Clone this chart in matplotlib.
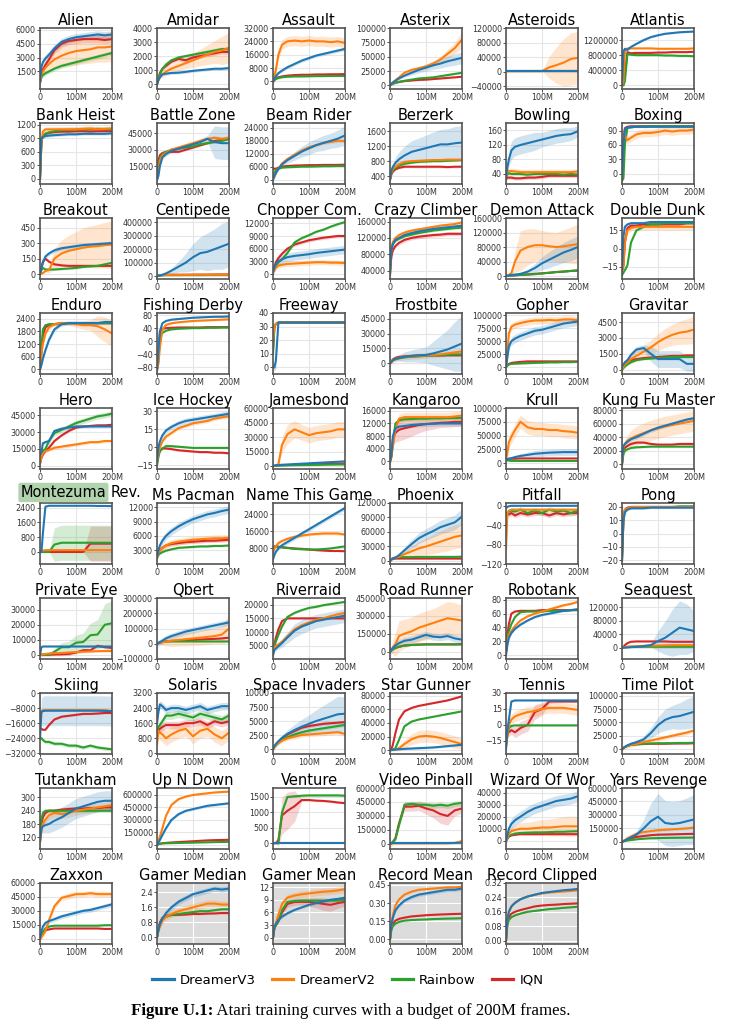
import numpy as np
import matplotlib.pyplot as plt
from matplotlib.lines import Line2D

# x positions of the read-off points (millions of frames)
X = [0, 4, 8, 15, 25, 40, 60, 80, 100, 120, 140, 160, 180, 200]

METHODS = ['DreamerV3', 'DreamerV2', 'Rainbow', 'IQN']
COLORS = ['#1f77b4', '#ff7f0e', '#2ca02c', '#d62728']

# each game: [DreamerV3, DreamerV2, Rainbow, IQN]; *_sd: band half widths (scalar or per point)
alien = [[300, 2000, 2500, 2900, 3300, 4000, 4700, 5000, 5200, 5300, 5400, 5500, 5400, 5500],
         [300, 1200, 1500, 1900, 2300, 2800, 3200, 3500, 3700, 3800, 3900, 4100, 4100, 4200],
         [300, 900, 1100, 1300, 1500, 1800, 2100, 2300, 2500, 2700, 2900, 3100, 3300, 3500],
         [300, 1300, 1700, 2200, 2800, 3800, 4500, 4800, 4900, 5000, 5000, 5000, 4900, 5000]]
alien_sd = [400, [100, 300, 400, 600, 800, 1000, 1200, 1400, 1500, 1500, 1500, 1600, 1600, 1600], 250, 400]

amidar = [[0, 300, 500, 700, 750, 800, 820, 880, 950, 1000, 1050, 1100, 1100, 1150],
          [0, 300, 500, 700, 900, 1100, 1300, 1500, 1700, 1900, 2100, 2300, 2400, 2600],
          [0, 400, 700, 1100, 1400, 1700, 1900, 2000, 2100, 2200, 2300, 2400, 2500, 2500],
          [0, 400, 800, 1100, 1300, 1600, 1800, 1700, 1900, 2000, 2100, 2200, 2300, 2300]]
amidar_sd = [100, [50, 100, 150, 200, 250, 300, 350, 400, 500, 600, 700, 800, 1000, 1100], 150, 150]

assault = [[0, 1500, 3000, 5000, 6500, 8500, 10500, 12500, 14000, 15500, 16500, 17500, 18500, 19500],
           [0, 3000, 7000, 16000, 22000, 24000, 24500, 24000, 24500, 24000, 24000, 23500, 24000, 23000],
           [0, 800, 1500, 2000, 2500, 2800, 3000, 3000, 3100, 3200, 3200, 3300, 3300, 3300],
           [0, 1000, 1800, 2500, 3000, 3500, 3800, 4000, 4000, 4200, 4200, 4300, 4300, 4400]]
assault_sd = [1000, 3000, 400, 400]

asterix = [[0, 3000, 5000, 8000, 12000, 17000, 22000, 27000, 31000, 35000, 38000, 42000, 45000, 48000],
           [0, 2000, 5000, 9000, 14000, 22000, 27000, 30000, 33000, 38000, 45000, 55000, 65000, 80000],
           [0, 1500, 3000, 4500, 6000, 8000, 10000, 12000, 13000, 14000, 16000, 18000, 20000, 22000],
           [0, 1500, 3000, 4500, 6000, 7500, 8500, 9500, 10000, 11000, 12000, 13000, 14000, 15000]]
asterix_sd = [[0, 500, 1000, 1500, 2000, 3000, 4000, 5000, 6000, 7000, 8000, 9000, 10000, 10000],
              [0, 500, 1000, 1500, 2000, 3000, 3000, 3000, 4000, 5000, 6000, 8000, 10000, 15000], 1500, 1000]

asteroids = [[2000, 2000, 2000, 2000, 2000, 2000, 2000, 2000, 2000, 2000, 2000, 2000, 2000, 2000],
             [1500, 1500, 1500, 1500, 1500, 1500, 1500, 1500, 1500, 12000, 18000, 25000, 35000, 38000],
             [1500, 1500, 1500, 1500, 1500, 1500, 1500, 1500, 1500, 1500, 1500, 1500, 1500, 1500],
             [1500, 1500, 1500, 1500, 1500, 1500, 1500, 1500, 1500, 1500, 1500, 1500, 1500, 1500]]
asteroids_sd = [500, [0, 0, 0, 0, 0, 0, 0, 0, 0, 30000, 50000, 65000, 72000, 72000], 0, 0]

atlantis = [[0, 900000, 970000, 940000, 1020000, 1100000, 1200000, 1280000, 1330000, 1370000, 1390000, 1410000, 1420000, 1430000],
            [0, 100000, 900000, 980000, 980000, 980000, 980000, 980000, 970000, 970000, 970000, 970000, 970000, 980000],
            [0, 0, 100000, 830000, 810000, 800000, 800000, 800000, 800000, 790000, 790000, 780000, 780000, 770000],
            [0, 0, 300000, 880000, 850000, 860000, 860000, 860000, 870000, 870000, 880000, 880000, 880000, 890000]]
atlantis_sd = [20000, 15000, 30000, 20000]

bank_heist = [[0, 900, 930, 950, 960, 970, 980, 990, 990, 1000, 1000, 1000, 1000, 1010],
              [0, 800, 1050, 1100, 1100, 1100, 1100, 1100, 1100, 1110, 1120, 1100, 1110, 1120],
              [0, 850, 950, 1000, 1030, 1060, 1080, 1090, 1090, 1100, 1100, 1110, 1100, 1100],
              [0, 850, 950, 1000, 1020, 1040, 1050, 1050, 1060, 1060, 1050, 1060, 1060, 1060]]
bank_heist_sd = [30, 60, 60, 40]

battle_zone = [[2000, 6000, 15000, 23000, 26000, 29000, 31000, 33000, 35000, 37000, 40000, 37000, 36000, 36000],
               [5000, 10000, 20000, 25000, 27000, 30000, 32000, 34000, 36000, 38000, 40000, 41000, 40000, 41000],
               [8000, 15000, 22000, 26000, 28000, 30000, 31000, 32000, 33000, 35000, 36000, 37000, 38000, 40000],
               [14000, 20000, 25000, 27000, 28000, 28000, 28000, 30000, 32000, 34000, 36000, 38000, 39000, 40000]]
battle_zone_sd = [[1000, 1000, 2000, 2000, 2000, 2000, 2000, 2000, 2000, 3000, 3000, 15000, 15000, 15000], 2000, 1000, 1000]

beam_rider = [[0, 1500, 3000, 5000, 7000, 9000, 11000, 13000, 14500, 16000, 17000, 18000, 19000, 20500],
              [0, 1500, 3000, 5000, 7500, 9500, 11500, 13500, 15000, 16000, 17000, 17500, 18000, 18000],
              [0, 3000, 4500, 5000, 5500, 5700, 5800, 6000, 6000, 6100, 6200, 6200, 6300, 6300],
              [5000, 5000, 5000, 5500, 6000, 6300, 6500, 6600, 6700, 6700, 6800, 6800, 6800, 6900]]
beam_rider_sd = [[0, 300, 500, 800, 1000, 1500, 2000, 2500, 3000, 3000, 3500, 3500, 4000, 4500], 800, 300, 300]

berzerk = [[300, 550, 650, 750, 850, 950, 1050, 1100, 1150, 1200, 1250, 1250, 1280, 1300],
           [300, 500, 600, 650, 720, 780, 800, 810, 820, 830, 830, 840, 840, 840],
           [300, 480, 550, 620, 680, 730, 760, 780, 790, 800, 800, 810, 820, 830],
           [300, 450, 520, 580, 620, 650, 650, 650, 650, 650, 650, 640, 650, 650]]
berzerk_sd = [[0, 50, 100, 150, 200, 250, 300, 320, 350, 380, 400, 420, 450, 450], 40, 30, 30]

bowling = [[30, 60, 80, 105, 115, 120, 125, 130, 135, 140, 145, 148, 150, 158],
           [35, 45, 48, 48, 47, 45, 45, 45, 45, 45, 45, 45, 45, 47],
           [30, 40, 42, 40, 40, 40, 38, 40, 40, 40, 40, 38, 40, 38],
           [25, 30, 30, 30, 28, 28, 30, 30, 32, 35, 35, 35, 35, 35]]
bowling_sd = [[5, 15, 20, 25, 25, 25, 25, 25, 20, 20, 20, 20, 18, 15], 8, 5, 5]

boxing = [[-10, 60, 92, 97, 97, 98, 98, 98, 98, 98, 98, 98, 98, 98],
          [60, 75, 80, 70, 75, 82, 85, 85, 87, 90, 88, 90, 90, 92],
          [-15, -10, 60, 95, 97, 98, 98, 99, 99, 99, 99, 99, 99, 99],
          [0, 70, 95, 98, 99, 99, 99, 99, 99, 99, 99, 99, 99, 99]]
boxing_sd = [2, 8, 1, 1]

breakout = [[0, 60, 110, 170, 200, 230, 250, 260, 270, 280, 285, 290, 295, 300],
            [0, 5, 10, 30, 40, 150, 200, 225, 240, 255, 265, 270, 280, 285],
            [0, 40, 60, 45, 45, 45, 50, 55, 60, 70, 75, 80, 95, 110],
            [0, 60, 120, 150, 120, 95, 85, 80, 80, 80, 80, 80, 80, 80]]
breakout_sd = [20, [0, 0, 0, 10, 30, 100, 130, 150, 170, 190, 200, 210, 220, 230], 10, 10]

centipede = [[0, 2000, 4000, 10000, 20000, 40000, 70000, 100000, 140000, 170000, 180000, 200000, 220000, 240000],
             [0, 3000, 5000, 7000, 8000, 9000, 9000, 9000, 9000, 10000, 10000, 10000, 10000, 10000],
             [0, 3000, 5000, 6000, 7000, 7000, 7000, 7500, 7500, 7500, 8000, 8000, 8000, 8000],
             [0, 4000, 6000, 8000, 9000, 10000, 10000, 10000, 11000, 11000, 11000, 12000, 12000, 12000]]
centipede_sd = [[0, 1000, 2000, 5000, 10000, 20000, 40000, 70000, 100000, 120000, 140000, 150000, 170000, 170000], 1000, 500, 500]

chopper_com = [[500, 1500, 2500, 3000, 3500, 4000, 4300, 4500, 4700, 5000, 5200, 5400, 5600, 5800],
               [500, 1000, 1500, 2000, 2200, 2400, 2500, 2600, 2700, 2800, 2800, 2700, 2700, 2600],
               [500, 1500, 2000, 2800, 3500, 5000, 7500, 8500, 9200, 10000, 10500, 11200, 11800, 12300],
               [500, 1800, 2800, 3800, 4800, 6000, 7000, 7500, 8000, 8300, 8600, 8800, 9000, 9000]]
chopper_com_sd = [1000, 600, 300, 400]

crazy_climber = [[30000, 90000, 105000, 115000, 120000, 127000, 132000, 136000, 139000, 142000, 144000, 146000, 148000, 150000],
                 [30000, 95000, 110000, 120000, 127000, 133000, 138000, 141000, 144000, 147000, 150000, 152000, 154000, 158000],
                 [30000, 95000, 105000, 113000, 118000, 124000, 128000, 132000, 135000, 138000, 140000, 142000, 144000, 145000],
                 [40000, 75000, 90000, 100000, 108000, 115000, 120000, 123000, 125000, 127000, 128000, 130000, 130000, 130000]]
crazy_climber_sd = [4000, 4000, 3000, 5000]

demon_attack = [[0, 1000, 2000, 3000, 4000, 6000, 12000, 22000, 35000, 45000, 55000, 65000, 72000, 80000],
                [0, 1000, 3000, 8000, 40000, 70000, 80000, 85000, 85000, 82000, 80000, 82000, 85000, 88000],
                [0, 500, 1000, 1500, 2000, 3000, 4000, 5000, 7000, 9000, 11000, 12000, 14000, 16000],
                [0, 500, 1000, 1500, 2000, 3000, 4500, 6000, 7500, 9000, 11000, 12500, 14000, 15000]]
demon_attack_sd = [[0, 500, 1000, 1500, 2000, 3000, 6000, 12000, 18000, 22000, 25000, 28000, 30000, 30000],
                   [0, 500, 2000, 5000, 30000, 55000, 50000, 45000, 40000, 40000, 40000, 45000, 50000, 55000], 1000, 1000]

double_dunk = [[-20, 10, 18, 20, 21, 21, 21, 22, 22, 22, 22, 22, 22, 22],
               [-20, -15, 5, 15, 17, 18, 18, 18, 18, 18, 18, 18, 18, 18],
               [-22, -20, -18, -14, 5, 15, 18, 20, 20, 21, 21, 21, 21, 21],
               [-18, -14, 5, 17, 19, 19, 20, 20, 20, 20, 20, 20, 21, 21]]
double_dunk_sd = [1, 2.5, 1, 1]

enduro = [[0, 200, 500, 900, 1400, 1900, 2150, 2200, 2200, 2200, 2200, 2200, 2250, 2250],
          [0, 700, 1200, 1700, 2000, 2150, 2200, 2200, 2150, 2100, 2100, 2050, 1900, 1700],
          [0, 1000, 1900, 2100, 2150, 2150, 2150, 2200, 2200, 2200, 2200, 2200, 2200, 2200],
          [0, 800, 1600, 2000, 2100, 2150, 2200, 2200, 2200, 2200, 2200, 2200, 2200, 2200]]
enduro_sd = [100, [0, 100, 100, 100, 100, 100, 100, 100, 150, 200, 250, 500, 600, 600], 50, 50]

fishing_derby = [[-90, -30, 30, 55, 62, 66, 68, 70, 72, 73, 74, 75, 75, 76],
                 [-90, -70, -20, 35, 50, 55, 58, 60, 62, 63, 64, 65, 66, 67],
                 [-90, -60, 10, 25, 32, 36, 38, 39, 40, 40, 41, 41, 42, 42],
                 [-85, -40, 25, 38, 40, 41, 42, 42, 42, 42, 43, 43, 43, 43]]
fishing_derby_sd = [2, 3, 2, 2]

freeway = [[0, 0, 5, 33, 33, 33, 33, 33, 33, 33, 33, 33, 33, 33],
           [20, 31, 32, 33, 33, 33, 33, 33, 33, 33, 33, 33, 33, 33],
           [10, 30, 32, 33, 33, 33, 33, 33, 33, 33, 33, 33, 33, 33],
           [13, 30, 32, 33, 33, 33, 33, 33, 33, 33, 33, 33, 33, 33]]
freeway_sd = [[0, 3, 6, 0.5, 0.3, 0.3, 0.3, 0.3, 0.3, 0.3, 0.3, 0.3, 0.3, 0.3], 0.5, 0.5, 0.5]

frostbite = [[0, 1500, 3000, 4500, 5500, 6500, 7500, 8000, 8500, 10000, 12000, 14000, 17000, 20000],
             [0, 1500, 3000, 4500, 5500, 6500, 7000, 7500, 8000, 8500, 9000, 10000, 11000, 12000],
             [0, 1500, 3000, 4000, 5000, 6000, 6500, 7000, 7500, 8000, 8000, 8500, 9000, 9000],
             [0, 2000, 4000, 5500, 6500, 7000, 7500, 8000, 8000, 8000, 8000, 8000, 8000, 8000]]
frostbite_sd = [[0, 500, 1000, 2000, 3000, 5000, 6000, 7000, 8000, 12000, 16000, 20000, 25000, 28000], 3000, 500, 500]

gopher = [[0, 20000, 40000, 50000, 55000, 60000, 65000, 70000, 72000, 76000, 80000, 84000, 86000, 88000],
          [0, 30000, 65000, 78000, 82000, 85000, 88000, 90000, 90000, 91000, 90000, 92000, 92000, 90000],
          [0, 3000, 5000, 6000, 6500, 7000, 7500, 8000, 8500, 9000, 9000, 9500, 9500, 10000],
          [0, 4000, 6000, 8000, 9000, 10000, 11000, 11000, 11000, 11000, 11000, 11000, 11000, 11000]]
gopher_sd = [8000, 7000, 1000, 1000]

gravitar = [[300, 500, 700, 900, 1400, 1900, 2050, 1500, 1000, 1000, 1000, 1000, 550, 550],
            [0, 300, 500, 700, 1000, 1300, 1700, 2100, 2600, 3000, 3300, 3500, 3600, 3800],
            [0, 150, 300, 500, 700, 900, 1000, 1050, 1100, 1150, 1200, 1200, 1200, 1200],
            [0, 300, 500, 700, 900, 1000, 1100, 1150, 1200, 1250, 1300, 1300, 1350, 1350]]
gravitar_sd = [[100, 100, 200, 200, 300, 300, 300, 700, 800, 800, 800, 800, 700, 700],
               [0, 100, 200, 300, 400, 500, 600, 700, 800, 900, 1000, 1100, 1200, 1300], 100, 100]

hero = [[10000, 12000, 20000, 21000, 22000, 31000, 33000, 34000, 35000, 35000, 35000, 35000, 35000, 35000],
        [2000, 8000, 11000, 13000, 14000, 16000, 17000, 18000, 19000, 20000, 21000, 21000, 22000, 22000],
        [2000, 10000, 13000, 15000, 22000, 29000, 32000, 35000, 38000, 40000, 42000, 44000, 45000, 46500],
        [2000, 7000, 10000, 13000, 16000, 22000, 27000, 31000, 34000, 35000, 35500, 36000, 36000, 36500]]
hero_sd = [1500, 1500, 2500, 1000]

ice_hockey = [[-12, 0, 5, 10, 14, 17, 20, 22, 23, 24, 25, 26, 27, 28],
              [-12, -5, 0, 5, 9, 12, 16, 18, 20, 21, 22, 24, 25, 26],
              [-15, -8, -3, -1, 1, 1, 0.5, 0, -0.5, -0.5, -0.5, -0.5, -0.5, -0.5],
              [-12, -6, -3, -1, -1, -1.5, -2.5, -3, -3.5, -4, -4, -4.5, -4.5, -5]]
ice_hockey_sd = [2.5, 1.5, 0.8, 0.8]

jamesbond = [[0, 500, 1000, 1200, 1500, 1800, 2200, 2600, 3000, 3400, 3800, 4200, 4600, 5000],
             [0, 500, 1000, 2000, 22000, 33000, 38000, 35000, 32000, 34000, 35000, 36000, 38000, 38000],
             [0, 300, 500, 700, 800, 900, 1000, 1100, 1200, 1300, 1500, 1600, 1700, 1800],
             [0, 400, 600, 800, 1000, 1200, 1400, 1600, 1800, 2000, 2200, 2400, 2600, 2800]]
jamesbond_sd = [500, [0, 200, 500, 1000, 8000, 10000, 9000, 8000, 8000, 8000, 8000, 8000, 8000, 8000], 200, 300]

kangaroo = [[0, 2000, 8000, 10500, 11000, 11200, 11500, 11700, 11800, 11900, 12000, 12000, 12000, 12000],
            [0, 1500, 5000, 10000, 13500, 14000, 14000, 14000, 14000, 14000, 14000, 14000, 14200, 14500],
            [0, 1500, 6000, 12000, 13000, 13300, 13400, 13500, 13500, 13600, 13600, 13700, 13700, 13800],
            [0, 2000, 7000, 9000, 10000, 10500, 11000, 11500, 11800, 12000, 12200, 12300, 12500, 12500]]
kangaroo_sd = [800, 1500, 500, [0, 1000, 2000, 3000, 3500, 3500, 3000, 2500, 2000, 1800, 1500, 1500, 1500, 1500]]

krull = [[6000, 7000, 8000, 9000, 11000, 13000, 15000, 17000, 18000, 19000, 19500, 20000, 20000, 20000],
         [6000, 20000, 38000, 48000, 60000, 75000, 65000, 62000, 62000, 60000, 60000, 58000, 57000, 55000],
         [6000, 5000, 4500, 4000, 4000, 4000, 4000, 4000, 4000, 4000, 4000, 4000, 4000, 4000],
         [7000, 7500, 8000, 8000, 8000, 8500, 8500, 8500, 8500, 8500, 8500, 8500, 8500, 8500]]
krull_sd = [[500, 1000, 1500, 2000, 3000, 4000, 5000, 6000, 6000, 6000, 6000, 6000, 6000, 6000], 12000, 500, 500]

kung_fu_master = [[0, 27000, 30000, 33000, 37000, 40000, 45000, 50000, 54000, 57000, 60000, 63000, 66000, 68000],
                  [0, 25000, 30000, 35000, 38000, 42000, 46000, 50000, 53000, 56000, 58000, 60000, 62000, 64000],
                  [0, 15000, 20000, 22000, 24000, 25000, 25500, 26000, 26000, 26000, 26000, 26000, 26000, 26000],
                  [0, 20000, 24000, 27000, 30000, 32000, 32000, 30000, 29000, 29000, 29000, 30000, 30000, 30000]]
kung_fu_master_sd = [3000, [0, 3000, 5000, 8000, 12000, 14000, 15000, 15000, 15000, 15000, 15000, 15000, 15000, 15000], 1500, 1500]

montezuma = [[0, 0, 1000, 2450, 2500, 2500, 2500, 2500, 2500, 2500, 2500, 2490, 2490, 2480],
             [0, 50, 80, 100, 100, 100, 100, 100, 100, 100, 100, 100, 100, 100],
             [0, 0, 0, 0, 0, 400, 500, 500, 500, 500, 500, 500, 500, 500],
             [0, 0, 0, 0, 0, 0, 0, 0, 0, 0, 450, 450, 450, 450]]
montezuma_sd = [0, 30, [0, 0, 0, 0, 0, 900, 950, 950, 950, 950, 950, 950, 950, 950],
                [0, 0, 0, 0, 0, 0, 0, 0, 0, 0, 950, 950, 950, 950]]

ms_pacman = [[1500, 3000, 4000, 5000, 6000, 7000, 8000, 8800, 9500, 10000, 10500, 10800, 11200, 11500],
             [1500, 2500, 3000, 3500, 4000, 4500, 4800, 5000, 5200, 5300, 5400, 5500, 5500, 5600],
             [1500, 2000, 2300, 2600, 2900, 3200, 3500, 3600, 3700, 3800, 3800, 3900, 3900, 4000],
             [1500, 2500, 3000, 3500, 4000, 4300, 4500, 4700, 4800, 4900, 5000, 5000, 5100, 5200]]
ms_pacman_sd = [800, 700, 200, 400]

name_this_game = [[3000, 5000, 6500, 8000, 9500, 11000, 13000, 15000, 17000, 19000, 21000, 23000, 25000, 27000],
                  [6000, 8000, 9000, 10500, 11500, 12500, 13500, 14000, 14500, 14800, 15000, 15000, 15000, 14500],
                  [7000, 8500, 9000, 8800, 8500, 8200, 7800, 7600, 7500, 7500, 7700, 8000, 8500, 9000],
                  [8500, 9000, 9000, 8800, 8600, 8300, 8000, 7800, 7500, 7200, 7000, 6800, 6800, 6700]]
name_this_game_sd = [1000, 700, 300, 300]

phoenix = [[0, 3000, 5000, 7000, 12000, 22000, 35000, 47000, 55000, 62000, 70000, 75000, 80000, 92000],
           [0, 3000, 5000, 7000, 9000, 14000, 20000, 26000, 30000, 35000, 40000, 45000, 50000, 53000],
           [0, 4000, 6000, 7000, 8000, 8000, 8000, 8500, 8500, 8500, 8500, 8500, 8500, 9000],
           [0, 3000, 4000, 5000, 5000, 5000, 5000, 5000, 5000, 5000, 5000, 5000, 5000, 5000]]
phoenix_sd = [[0, 500, 1000, 2000, 3000, 6000, 9000, 11000, 12000, 13000, 14000, 15000, 15000, 16000],
              [0, 500, 1000, 2000, 3000, 6000, 10000, 14000, 17000, 20000, 22000, 24000, 25000, 25000], 800, 500]

pitfall = [[-5, -2, -1, 0, 0, 0, 0, 0, 0, 0, 0, 0, 0, 0],
           [-90, -15, -10, -8, -8, -8, -8, -8, -8, -8, -8, -8, -8, -8],
           [-20, -15, -12, -10, -12, -8, -15, -10, -15, -8, -12, -10, -15, -10],
           [-15, -15, -18, -15, -20, -15, -18, -15, -15, -20, -15, -18, -15, -15]]
pitfall_sd = [1, 3, 6, 5]

pong = [[-20, 10, 16, 18, 19, 19, 19, 19.5, 19.5, 19.5, 19.5, 19.5, 19.5, 19.5],
        [-15, 15, 18, 19, 20, 20, 20, 20, 20, 20, 20, 20, 20, 20],
        [-20, 10, 17, 19, 20, 20, 20, 20, 20, 20, 20, 20.5, 20.5, 20.5],
        [-20, 12, 18, 19.5, 20, 20, 20, 20, 20, 20, 20, 20, 20, 20]]
pong_sd = [0.8, 0.8, 0.4, 0.4]

private_eye = [[0, 5000, 5500, 5500, 5500, 5500, 5500, 5500, 5500, 5500, 5500, 5500, 5500, 5500],
               [0, 0, 200, 500, 800, 1000, 1200, 1500, 1800, 2000, 2200, 2400, 2500, 2500],
               [0, 0, 0, 0, 0, 2000, 5000, 5000, 8000, 8500, 13000, 13500, 20000, 21000],
               [0, 0, 0, 0, 0, 200, 300, 500, 1500, 3000, 3000, 6000, 5000, 4500]]
private_eye_sd = [300, 800, [0, 0, 0, 0, 0, 2000, 3000, 4000, 5000, 6000, 8000, 10000, 14000, 15000], 1000]

qbert = [[0, 5000, 10000, 20000, 35000, 50000, 65000, 80000, 90000, 100000, 110000, 120000, 130000, 140000],
         [0, 3000, 6000, 10000, 15000, 20000, 25000, 30000, 35000, 40000, 45000, 50000, 60000, 100000],
         [0, 5000, 10000, 15000, 15000, 15000, 15000, 15000, 15000, 15000, 15000, 15000, 15000, 15000],
         [0, 5000, 8000, 12000, 15000, 18000, 20000, 22000, 25000, 28000, 30000, 32000, 35000, 40000]]
qbert_sd = [20000, [0, 5000, 10000, 20000, 30000, 40000, 40000, 45000, 45000, 50000, 50000, 50000, 60000, 90000], 2000, 5000]

riverraid = [[1500, 3500, 4000, 4800, 6000, 8000, 10500, 12000, 13000, 14000, 14500, 15000, 15500, 16000],
             [4000, 4500, 5000, 5500, 6500, 8500, 11000, 12500, 13500, 14500, 15000, 15800, 16500, 17000],
             [4000, 5000, 6500, 9000, 12000, 15500, 17000, 18000, 18800, 19200, 19800, 20200, 20600, 21000],
             [4000, 5500, 8000, 11000, 14000, 15000, 15000, 15000, 15000, 15000, 15000, 15000, 15000, 15000]]
riverraid_sd = [[300, 500, 800, 1000, 1500, 2000, 2500, 2500, 2500, 2500, 2500, 2500, 2500, 2500], 600, 400, 300]

road_runner = [[0, 15000, 30000, 50000, 70000, 90000, 100000, 120000, 140000, 125000, 120000, 130000, 110000, 100000],
               [0, 15000, 35000, 60000, 130000, 150000, 170000, 200000, 220000, 240000, 260000, 280000, 270000, 260000],
               [0, 10000, 20000, 30000, 40000, 50000, 55000, 58000, 60000, 60000, 60000, 60000, 60000, 60000],
               [0, 10000, 20000, 30000, 40000, 50000, 55000, 58000, 60000, 60000, 60000, 60000, 60000, 62000]]
road_runner_sd = [30000, [0, 30000, 60000, 100000, 130000, 120000, 120000, 120000, 120000, 120000, 130000, 140000, 140000, 130000], 3000, 3000]

robotank = [[0, 15, 25, 32, 38, 44, 50, 55, 58, 60, 62, 64, 65, 66],
            [5, 20, 30, 35, 42, 50, 56, 60, 63, 66, 69, 72, 74, 77],
            [5, 25, 35, 45, 55, 62, 63, 63, 63, 64, 64, 64, 65, 65],
            [5, 30, 45, 60, 63, 64, 64, 64, 65, 65, 65, 65, 65, 66]]
robotank_sd = [1.5, 1.5, 1, 1]

seaquest = [[0, 300, 500, 1000, 2000, 3000, 5000, 8000, 20000, 30000, 45000, 60000, 55000, 50000],
            [0, 1000, 2000, 3000, 4000, 5000, 6000, 7000, 7000, 7500, 8000, 8000, 8000, 8000],
            [0, 1000, 2000, 3000, 3000, 3000, 3000, 3000, 3000, 3000, 3000, 3000, 3000, 3000],
            [0, 3000, 8000, 14000, 18000, 19000, 19000, 19000, 19000, 19000, 18000, 18000, 18000, 18000]]
seaquest_sd = [[0, 0, 0, 500, 1000, 2000, 3000, 5000, 30000, 50000, 70000, 80000, 75000, 60000], 1000, 500, 1000]

skiing = [[-24000, -10000, -9500, -9300, -9300, -9300, -9300, -9300, -9300, -9300, -9300, -9300, -9400, -9500],
          [-13000, -9500, -9000, -9000, -9000, -9000, -9000, -9000, -9000, -9000, -9000, -9000, -9000, -9500],
          [-24000, -24000, -25000, -26000, -26000, -27000, -27000, -28000, -28000, -29000, -28000, -29000, -29500, -30000],
          [-19000, -19000, -19500, -19500, -17000, -14000, -12500, -12000, -11500, -11000, -11000, -10800, -10500, -10500]]
skiing_sd = [[0, 7000, 8000, 8000, 8000, 8000, 8000, 8000, 8000, 8000, 8000, 8000, 8000, 8000], 300, 1000, 500]

solaris = [[1600, 2200, 2600, 2500, 2300, 2400, 2400, 2300, 2400, 2500, 2300, 2400, 2500, 2500],
           [500, 1200, 1100, 1000, 800, 1000, 1200, 1300, 900, 1200, 1300, 1000, 800, 1100],
           [1000, 1400, 1500, 1700, 2000, 2000, 2100, 2000, 1900, 2100, 2000, 1900, 1800, 2000],
           [1000, 1200, 1300, 1400, 1500, 1500, 1500, 1600, 1600, 1700, 1500, 1700, 1600, 1700]]
solaris_sd = [200, 400, 200, 200]

space_invaders = [[0, 500, 900, 1400, 2000, 2700, 3400, 4000, 4500, 5000, 5400, 5800, 6200, 6300],
                  [0, 400, 700, 1100, 1500, 1900, 2200, 2500, 2600, 2700, 2800, 2900, 3000, 2700],
                  [0, 400, 700, 1100, 1600, 2100, 2600, 3000, 3300, 3500, 3700, 3900, 4100, 4300],
                  [0, 500, 800, 1300, 1900, 2600, 3200, 3800, 4100, 4300, 4500, 4600, 4700, 4800]]
space_invaders_sd = [[0, 100, 200, 300, 500, 700, 1000, 1300, 1600, 2000, 2400, 2800, 3200, 3000], 400, 300, 300]

star_gunner = [[0, 300, 500, 1000, 1500, 2000, 2500, 3000, 3500, 4000, 5000, 6000, 7000, 8000],
               [0, 200, 500, 1000, 3000, 9000, 16000, 20000, 21000, 20000, 18000, 15000, 12000, 9000],
               [0, 300, 1000, 3000, 15000, 35000, 42000, 45000, 47000, 49000, 51000, 53000, 55000, 57000],
               [0, 2000, 8000, 25000, 45000, 57000, 62000, 65000, 67000, 69000, 71000, 73000, 76000, 79000]]
star_gunner_sd = [1500, [0, 500, 1000, 2000, 4000, 6000, 8000, 9000, 9000, 9000, 9000, 9000, 9000, 8000], 800, 800]

tennis = [[-23, -5, 5, 22, 23, 23, 23, 23, 23, 23, 23, 23, 23, 23],
          [-20, -10, 0, 5, 8, 10, 12, 13, 15, 16, 16, 16, 15, 14],
          [-20, -10, -3, -1, -0.5, -0.5, -0.5, -0.5, -0.5, -0.5, -0.5, -0.5, -0.5, -0.5],
          [-15, -5, -7, -5, -7, -3, 0, 12, 15, 22, 22, 22, 22, 22]]
tennis_sd = [0.5, 5, 0.5, [2, 3, 4, 4, 5, 6, 6, 7, 6, 2, 1, 1, 1, 1]]

time_pilot = [[0, 2000, 4000, 7000, 10000, 13000, 18000, 30000, 45000, 55000, 60000, 62000, 66000, 70000],
              [0, 2000, 4000, 6000, 8000, 10000, 13000, 16000, 19000, 22000, 25000, 28000, 31000, 35000],
              [0, 2000, 4000, 6000, 8000, 9000, 10000, 10500, 11000, 11000, 11000, 11500, 11500, 12000],
              [0, 2000, 4000, 6000, 8000, 9000, 9500, 10000, 10000, 10000, 10500, 10500, 10500, 11000]]
time_pilot_sd = [[0, 500, 1000, 2000, 3000, 4000, 6000, 10000, 15000, 20000, 22000, 25000, 28000, 30000], 4000, 800, 800]

tutankham = [[100, 160, 170, 175, 180, 195, 210, 230, 250, 260, 270, 280, 285, 285],
             [100, 150, 180, 200, 220, 230, 225, 230, 240, 245, 250, 255, 260, 265],
             [100, 200, 230, 240, 240, 240, 240, 240, 240, 240, 240, 240, 240, 240],
             [140, 180, 210, 230, 240, 240, 245, 248, 250, 250, 252, 252, 255, 255]]
tutankham_sd = [[10, 20, 30, 35, 40, 45, 45, 45, 45, 45, 45, 45, 45, 45], 20, 8, 10]

up_n_down = [[0, 30000, 60000, 120000, 200000, 300000, 370000, 410000, 430000, 450000, 470000, 480000, 490000, 500000],
             [0, 50000, 100000, 200000, 350000, 480000, 550000, 580000, 600000, 610000, 620000, 630000, 635000, 640000],
             [0, 10000, 15000, 20000, 20000, 22000, 24000, 26000, 28000, 30000, 32000, 34000, 36000, 38000],
             [0, 10000, 15000, 20000, 25000, 30000, 35000, 40000, 45000, 50000, 55000, 58000, 60000, 62000]]
up_n_down_sd = [15000, 10000, 3000, 5000]

venture = [[0, 0, 0, 0, 0, 0, 0, 0, 0, 0, 0, 0, 0, 0],
           [0, 0, 0, 0, 0, 0, 0, 0, 0, 0, 0, 0, 0, 0],
           [0, 0, 0, 0, 1000, 1500, 1520, 1540, 1550, 1550, 1550, 1550, 1550, 1540],
           [0, 0, 0, 100, 900, 1050, 1200, 1400, 1400, 1380, 1370, 1350, 1320, 1300]]
venture_sd = [5, 5, 40, [0, 0, 0, 200, 600, 600, 500, 40, 30, 30, 30, 30, 30, 30]]

video_pinball = [[10000, 10000, 10000, 10000, 10000, 10000, 10000, 10000, 10000, 10000, 10000, 10000, 11000, 12000],
                 [5000, 5000, 5000, 5000, 5000, 5000, 5000, 5000, 5000, 5000, 5000, 5000, 10000, 30000],
                 [0, 5000, 20000, 50000, 200000, 420000, 430000, 420000, 420000, 410000, 420000, 410000, 430000, 440000],
                 [0, 5000, 20000, 60000, 220000, 400000, 400000, 410000, 380000, 360000, 320000, 300000, 360000, 380000]]
video_pinball_sd = [3000, [0, 0, 0, 0, 0, 0, 0, 0, 0, 0, 0, 2000, 10000, 30000], 30000,
                    [0, 2000, 5000, 10000, 30000, 50000, 50000, 50000, 60000, 80000, 100000, 100000, 60000, 50000]]

wizard_of_wor = [[0, 5000, 10000, 14000, 17000, 20000, 24000, 27000, 29000, 31000, 33000, 34000, 35000, 37000],
                 [0, 3000, 6000, 8000, 9000, 10000, 10000, 10500, 11000, 11000, 11500, 12000, 12000, 12000],
                 [0, 2000, 4000, 5000, 6000, 6500, 6800, 7000, 7000, 7200, 7500, 7500, 7800, 8000],
                 [0, 2000, 3500, 4500, 5000, 5500, 5500, 5500, 5500, 5500, 5500, 5500, 5500, 5500]]
wizard_of_wor_sd = [4500, [0, 1000, 2000, 3000, 4000, 5000, 5500, 6000, 6500, 7000, 7500, 8000, 8500, 8000], 800, 500]

yars_revenge = [[0, 8000, 15000, 30000, 50000, 80000, 150000, 230000, 280000, 210000, 200000, 210000, 230000, 250000],
                [0, 10000, 20000, 40000, 60000, 90000, 110000, 120000, 130000, 135000, 140000, 145000, 150000, 160000],
                [0, 5000, 10000, 15000, 20000, 28000, 35000, 40000, 42000, 44000, 45000, 46000, 47000, 48000],
                [0, 8000, 15000, 25000, 40000, 55000, 65000, 75000, 80000, 82000, 84000, 86000, 88000, 90000]]
yars_revenge_sd = [[0, 3000, 5000, 10000, 20000, 40000, 100000, 200000, 260000, 250000, 250000, 250000, 260000, 280000], 15000, 4000, 8000]

zaxxon = [[0, 8000, 13000, 17000, 19000, 21000, 24000, 26000, 28000, 30000, 31000, 33000, 35000, 37000],
          [0, 2000, 4000, 8000, 20000, 35000, 44000, 46000, 48000, 48000, 49000, 48000, 48000, 48000],
          [0, 4000, 7000, 11000, 13000, 14000, 14000, 14000, 14000, 14000, 14000, 14000, 14500, 14500],
          [0, 4000, 7000, 9000, 10000, 11000, 11000, 11000, 11000, 11000, 11000, 11000, 10500, 10500]]
zaxxon_sd = [2500, 3000, 800, 500]

gamer_median = [[0, 0.4, 0.7, 1.0, 1.3, 1.6, 1.9, 2.1, 2.3, 2.4, 2.5, 2.6, 2.55, 2.6],
                [0, 0.4, 0.6, 0.9, 1.1, 1.25, 1.4, 1.5, 1.6, 1.7, 1.8, 1.8, 1.75, 1.75],
                [0, 0.4, 0.7, 1.0, 1.1, 1.2, 1.25, 1.3, 1.35, 1.4, 1.4, 1.45, 1.5, 1.5],
                [0, 0.5, 0.8, 1.05, 1.15, 1.2, 1.2, 1.22, 1.25, 1.25, 1.27, 1.28, 1.3, 1.3]]
gamer_median_sd = [0.15, 0.2, 0.05, 0.05]

gamer_mean = [[0, 2.5, 3.3, 4.2, 5.0, 5.8, 6.6, 7.2, 7.8, 8.2, 8.6, 9.0, 9.2, 9.5],
              [0, 2.5, 3.5, 5.5, 8.0, 9.5, 10.0, 10.3, 10.5, 10.7, 10.9, 11.0, 11.2, 11.5],
              [0, 2.5, 3.0, 4.0, 6.5, 8.5, 8.7, 8.8, 8.8, 8.8, 8.8, 8.8, 8.8, 9.0],
              [0, 2.5, 3.0, 4.0, 6.0, 8.0, 8.5, 8.5, 8.5, 8.3, 8.0, 7.8, 8.2, 8.5]]
gamer_mean_sd = [0.3, 0.8, 0.4, [0, 0.2, 0.3, 0.5, 0.7, 0.8, 0.8, 0.8, 1.0, 1.2, 1.5, 1.5, 1.2, 1.0]]

record_mean = [[0, 0.12, 0.18, 0.24, 0.28, 0.32, 0.35, 0.37, 0.38, 0.39, 0.40, 0.41, 0.41, 0.42],
               [0, 0.12, 0.2, 0.28, 0.33, 0.37, 0.395, 0.41, 0.415, 0.42, 0.425, 0.43, 0.43, 0.435],
               [0, 0.08, 0.11, 0.13, 0.145, 0.155, 0.16, 0.163, 0.165, 0.168, 0.17, 0.172, 0.173, 0.175],
               [0, 0.1, 0.13, 0.155, 0.17, 0.18, 0.19, 0.195, 0.2, 0.203, 0.206, 0.208, 0.21, 0.212]]
record_mean_sd = [0.015, 0.008, 0.004, 0.004]

record_clipped = [[0, 0.12, 0.16, 0.19, 0.21, 0.23, 0.245, 0.255, 0.265, 0.27, 0.275, 0.28, 0.283, 0.287],
                  [0, 0.12, 0.16, 0.19, 0.21, 0.23, 0.245, 0.255, 0.262, 0.267, 0.27, 0.273, 0.276, 0.28],
                  [0, 0.09, 0.115, 0.13, 0.14, 0.15, 0.16, 0.165, 0.17, 0.175, 0.178, 0.182, 0.185, 0.188],
                  [0, 0.1, 0.13, 0.15, 0.16, 0.17, 0.18, 0.19, 0.195, 0.198, 0.2, 0.203, 0.205, 0.207]]
record_clipped_sd = [0.004, 0.004, 0.002, 0.002]

GAMES = [
    ('Alien', alien, alien_sd, ['1500', '3000', '4500', '6000']),
    ('Amidar', amidar, amidar_sd, ['0', '1000', '2000', '3000', '4000']),
    ('Assault', assault, assault_sd, ['0', '8000', '16000', '24000', '32000']),
    ('Asterix', asterix, asterix_sd, ['0', '25000', '50000', '75000', '100000']),
    ('Asteroids', asteroids, asteroids_sd, ['-40000', '0', '40000', '80000', '120000']),
    ('Atlantis', atlantis, atlantis_sd, ['0', '400000', '800000', '1200000']),
    ('Bank Heist', bank_heist, bank_heist_sd, ['0', '300', '600', '900', '1200']),
    ('Battle Zone', battle_zone, battle_zone_sd, ['15000', '30000', '45000']),
    ('Beam Rider', beam_rider, beam_rider_sd, ['0', '6000', '12000', '18000', '24000']),
    ('Berzerk', berzerk, berzerk_sd, ['400', '800', '1200', '1600']),
    ('Bowling', bowling, bowling_sd, ['40', '80', '120', '160']),
    ('Boxing', boxing, boxing_sd, ['0', '30', '60', '90']),
    ('Breakout', breakout, breakout_sd, ['0', '150', '300', '450']),
    ('Centipede', centipede, centipede_sd, ['0', '100000', '200000', '300000', '400000']),
    ('Chopper Com.', chopper_com, chopper_com_sd, ['0', '3000', '6000', '9000', '12000']),
    ('Crazy Climber', crazy_climber, crazy_climber_sd, ['40000', '80000', '120000', '160000']),
    ('Demon Attack', demon_attack, demon_attack_sd, ['0', '40000', '80000', '120000', '160000']),
    ('Double Dunk', double_dunk, double_dunk_sd, ['-15', '0', '15']),
    ('Enduro', enduro, enduro_sd, ['0', '600', '1200', '1800', '2400']),
    ('Fishing Derby', fishing_derby, fishing_derby_sd, ['-80', '-40', '0', '40', '80']),
    ('Freeway', freeway, freeway_sd, ['0', '10', '20', '30', '40']),
    ('Frostbite', frostbite, frostbite_sd, ['0', '15000', '30000', '45000']),
    ('Gopher', gopher, gopher_sd, ['0', '25000', '50000', '75000', '100000']),
    ('Gravitar', gravitar, gravitar_sd, ['0', '1500', '3000', '4500']),
    ('Hero', hero, hero_sd, ['0', '15000', '30000', '45000']),
    ('Ice Hockey', ice_hockey, ice_hockey_sd, ['-15', '0', '15', '30']),
    ('Jamesbond', jamesbond, jamesbond_sd, ['0', '15000', '30000', '45000', '60000']),
    ('Kangaroo', kangaroo, kangaroo_sd, ['0', '4000', '8000', '12000', '16000']),
    ('Krull', krull, krull_sd, ['0', '25000', '50000', '75000', '100000']),
    ('Kung Fu Master', kung_fu_master, kung_fu_master_sd, ['0', '20000', '40000', '60000', '80000']),
    ('Montezuma Rev.', montezuma, montezuma_sd, ['0', '800', '1600', '2400']),
    ('Ms Pacman', ms_pacman, ms_pacman_sd, ['3000', '6000', '9000', '12000']),
    ('Name This Game', name_this_game, name_this_game_sd, ['8000', '16000', '24000']),
    ('Phoenix', phoenix, phoenix_sd, ['0', '30000', '60000', '90000', '120000']),
    ('Pitfall', pitfall, pitfall_sd, ['-120', '-80', '-40', '0']),
    ('Pong', pong, pong_sd, ['-20', '-10', '0', '10', '20']),
    ('Private Eye', private_eye, private_eye_sd, ['0', '10000', '20000', '30000']),
    ('Qbert', qbert, qbert_sd, ['-100000', '0', '100000', '200000', '300000']),
    ('Riverraid', riverraid, riverraid_sd, ['5000', '10000', '15000', '20000']),
    ('Road Runner', road_runner, road_runner_sd, ['0', '150000', '300000', '450000']),
    ('Robotank', robotank, robotank_sd, ['0', '20', '40', '60', '80']),
    ('Seaquest', seaquest, seaquest_sd, ['0', '40000', '80000', '120000']),
    ('Skiing', skiing, skiing_sd, ['-32000', '-24000', '-16000', '-8000', '0']),
    ('Solaris', solaris, solaris_sd, ['0', '800', '1600', '2400', '3200']),
    ('Space Invaders', space_invaders, space_invaders_sd, ['0', '2500', '5000', '7500', '10000']),
    ('Star Gunner', star_gunner, star_gunner_sd, ['0', '20000', '40000', '60000', '80000']),
    ('Tennis', tennis, tennis_sd, ['-15', '0', '15', '30']),
    ('Time Pilot', time_pilot, time_pilot_sd, ['0', '25000', '50000', '75000', '100000']),
    ('Tutankham', tutankham, tutankham_sd, ['120', '180', '240', '300']),
    ('Up N Down', up_n_down, up_n_down_sd, ['0', '150000', '300000', '450000', '600000']),
    ('Venture', venture, venture_sd, ['0', '500', '1000', '1500']),
    ('Video Pinball', video_pinball, video_pinball_sd, ['0', '150000', '300000', '450000', '600000']),
    ('Wizard Of Wor', wizard_of_wor, wizard_of_wor_sd, ['0', '10000', '20000', '30000', '40000']),
    ('Yars Revenge', yars_revenge, yars_revenge_sd, ['0', '150000', '300000', '450000', '600000']),
    ('Zaxxon', zaxxon, zaxxon_sd, ['0', '15000', '30000', '45000', '60000']),
    ('Gamer Median', gamer_median, gamer_median_sd, ['0.0', '0.8', '1.6', '2.4']),
    ('Gamer Mean', gamer_mean, gamer_mean_sd, ['0', '3', '6', '9', '12']),
    ('Record Mean', record_mean, record_mean_sd, ['0.00', '0.15', '0.30', '0.45']),
    ('Record Clipped', record_clipped, record_clipped_sd, ['0.00', '0.08', '0.16', '0.24', '0.32']),
]
AGGREGATES = ['Gamer Median', 'Gamer Mean', 'Record Mean', 'Record Clipped']

# ---- layout (pixels of a 740x1029 canvas) ----
W, H = 740, 1029
COL_X = [40, 157, 273, 390, 506, 622]
ROW_Y0, ROW_DY = 28, 95
AX_W, AX_H = 72, 61

fig = plt.figure(figsize=(W / 100, H / 100), dpi=100)
x = np.array(X, float)

for i, (title, curves, sds, ticks) in enumerate(GAMES):
    r, c = divmod(i, 6)
    top = ROW_Y0 + r * ROW_DY
    ax = fig.add_axes([COL_X[c] / W, 1 - (top + AX_H) / H, AX_W / W, AX_H / H])
    agg = title in AGGREGATES
    ax.set_facecolor('#dcdcdc' if agg else 'white')
    ax.grid(True, color='white' if agg else '#e6e6e6', lw=0.8)
    ax.set_axisbelow(True)

    # draw IQN first, DreamerV3 last (on top)
    for k in [3, 2, 1, 0]:
        y = np.array(curves[k], float)
        sd = np.broadcast_to(np.asarray(sds[k], float), y.shape)
        if np.any(sd > 0):
            ax.fill_between(x, y - sd, y + sd, color=COLORS[k], alpha=0.2, lw=0)
        ax.plot(x, y, color=COLORS[k], lw=1.5)

    ax.set_xlim(0, 200)
    ax.set_xticks([0, 100, 200])
    ax.set_xticklabels(['0', '100M', '200M'])
    ax.set_yticks([float(t) for t in ticks])
    ax.set_yticklabels([t.replace('-', '\u2212') for t in ticks])
    ax.tick_params(labelsize=5.8, length=2, width=0.6, pad=1, colors='#333333')
    for s in ax.spines.values():
        s.set_color('#555555')
        s.set_linewidth(1.2)

    if title == 'Montezuma Rev.':
        t1 = ax.text(-0.27, 1.05, 'Montezuma', transform=ax.transAxes, ha='left', va='bottom',
                     fontsize=10.5, bbox=dict(boxstyle='round,pad=0.15', fc='#a9cfa5', ec='none', alpha=0.9))
        ax.annotate('Rev.', xy=(1, 0), xycoords=t1, xytext=(3, 0), textcoords='offset points',
                    ha='left', va='bottom', fontsize=10.5)
    else:
        ax.set_title(title, fontsize=10.5, pad=2)

handles = [Line2D([], [], color=col, lw=2.3) for col in COLORS]
fig.legend(handles, METHODS, loc='center', bbox_to_anchor=(348 / W, 1 - 980 / H), ncol=4,
           frameon=False, fontsize=9.5, handlelength=1.6, handletextpad=0.5, columnspacing=1.2)

cap = fig.text(131 / W, 1 - 1011 / H, 'Figure U.1:', fontsize=12.2, fontweight='bold',
               family='Liberation Serif', ha='left', va='center')
fig.text(0.5, 0.5, '', fontsize=1)
plt.annotate(' Atari training curves with a budget of 200M frames.', xy=(1, 0), xycoords=cap,
             ha='left', va='bottom', fontsize=12.2, family='Liberation Serif', annotation_clip=False)

fig.savefig('out.png', dpi=100)
